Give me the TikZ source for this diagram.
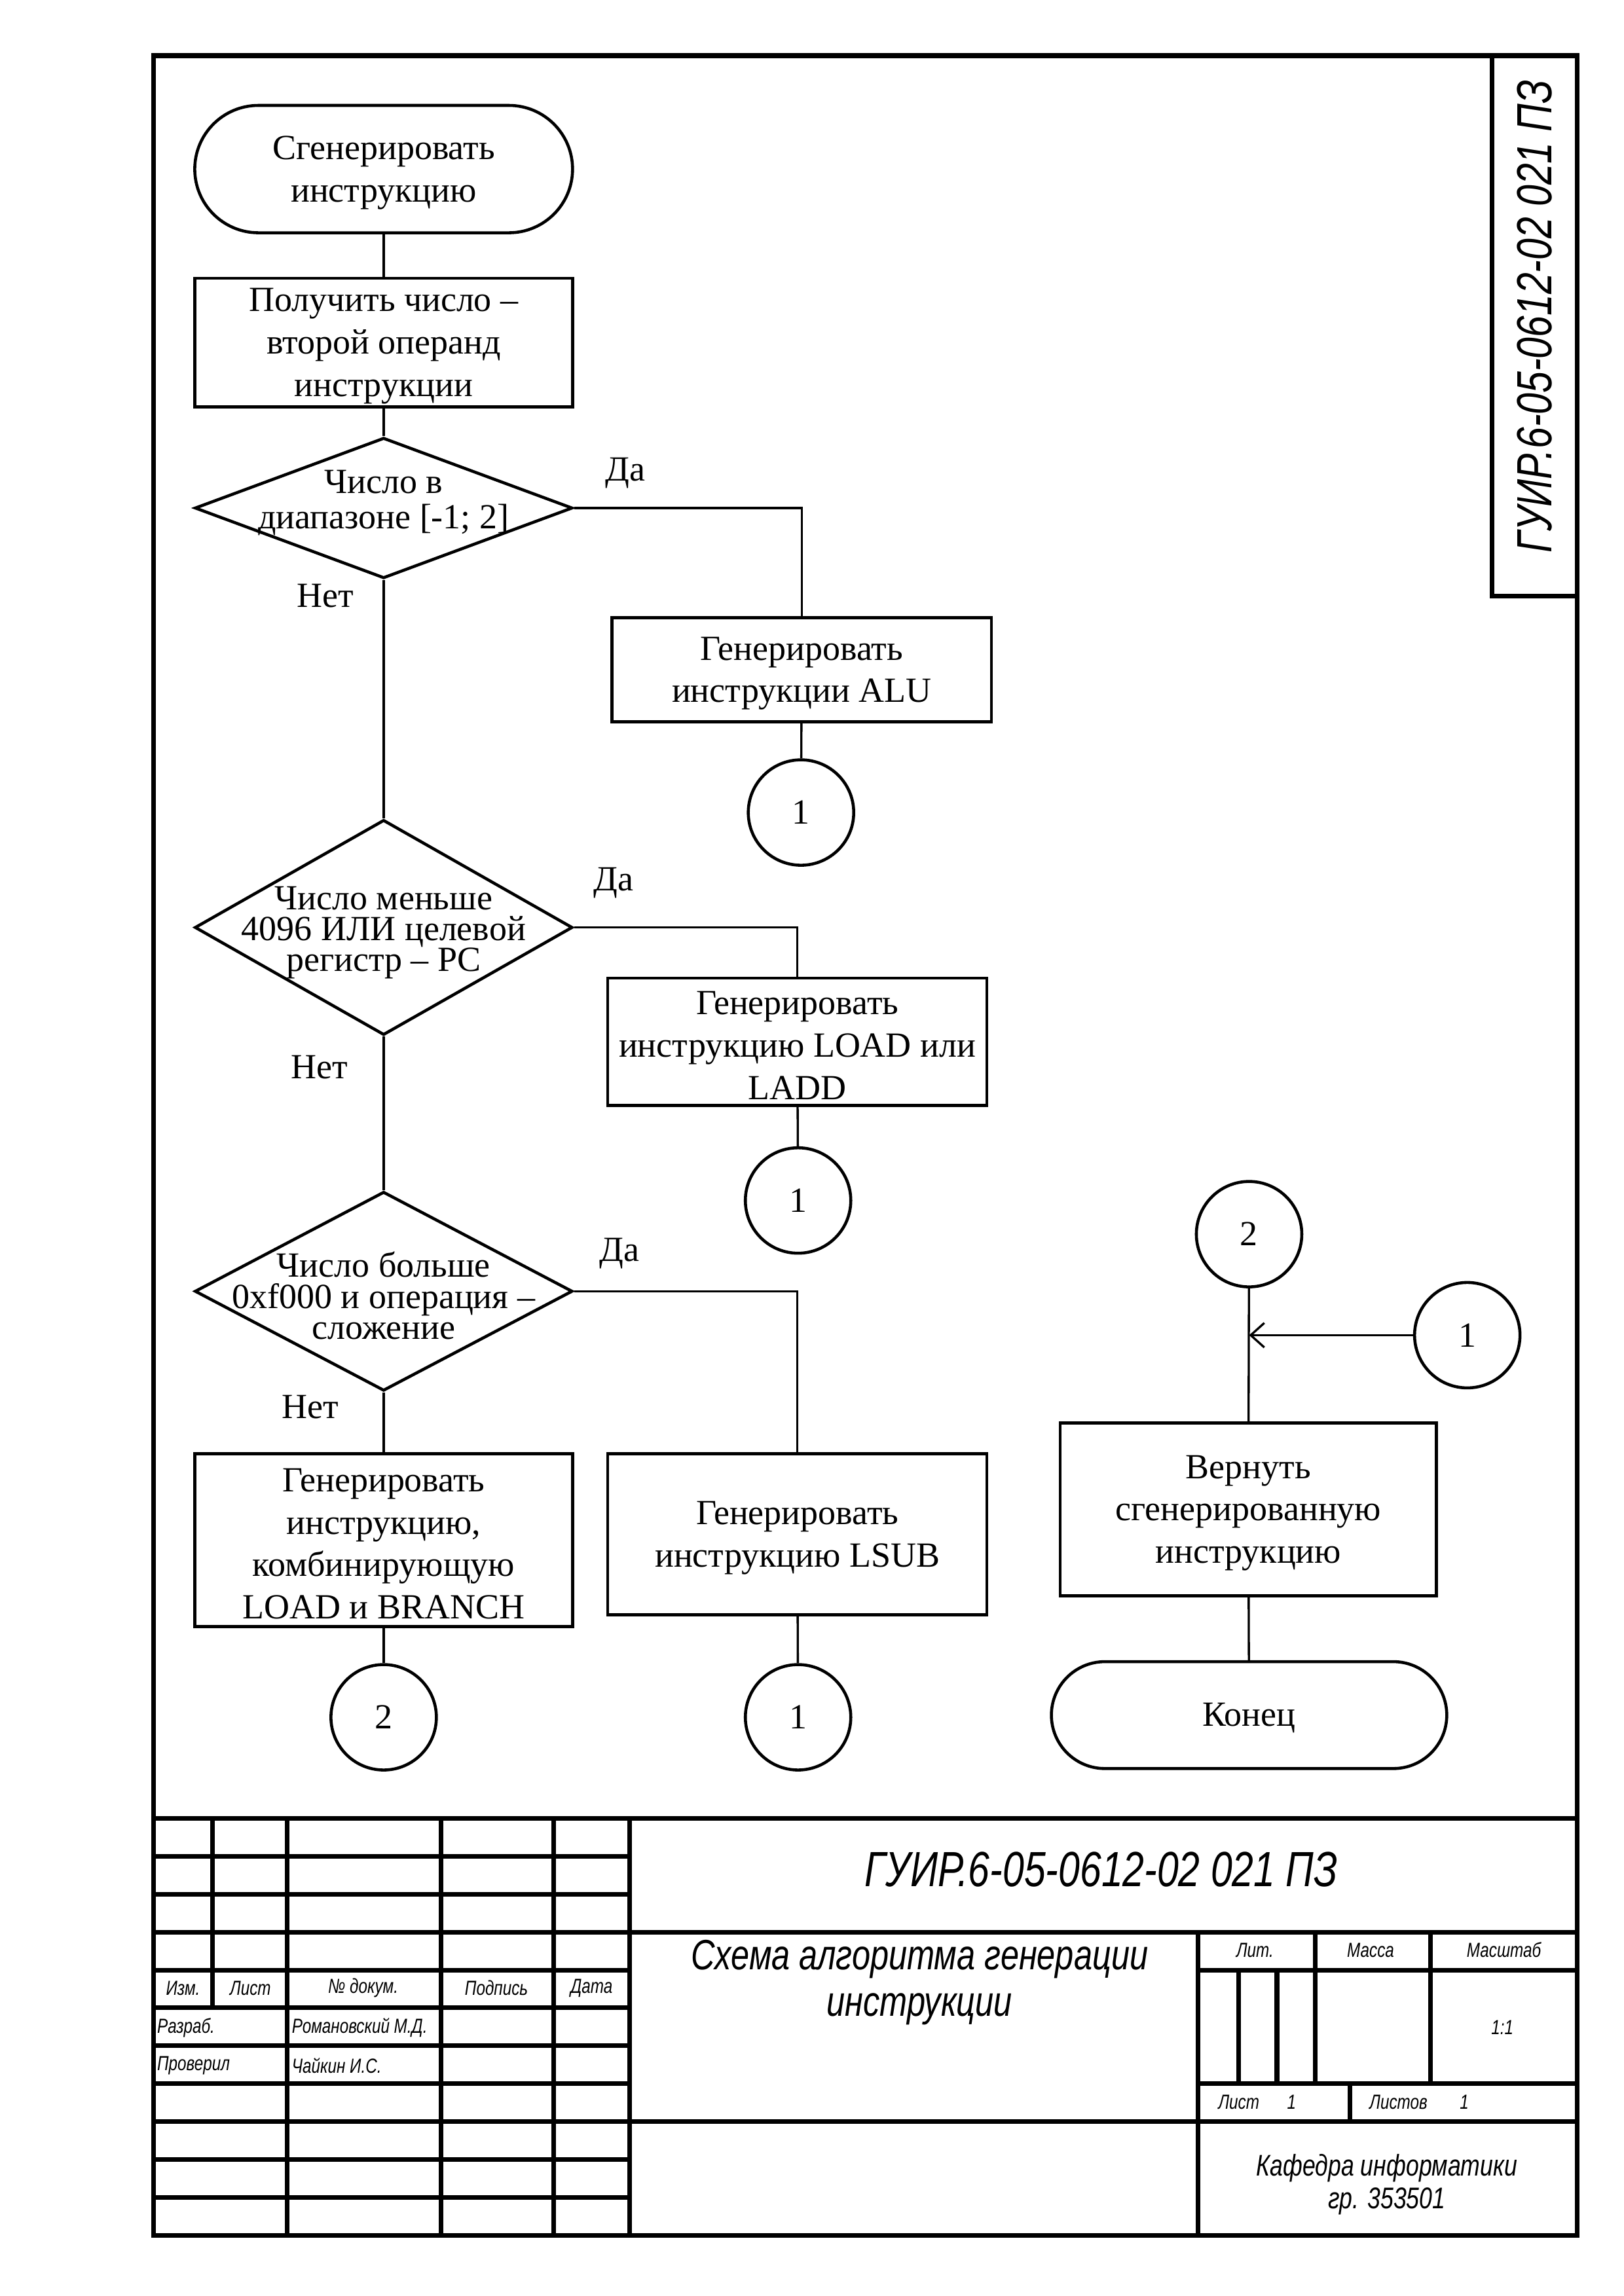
\documentclass[tikz,border=0pt]{standalone}
\usepackage{fontspec}
\setmainfont{Liberation Serif}
\newfontfamily\gost[FakeStretch=0.78]{Liberation Sans}
\usetikzlibrary{shapes.geometric,arrows.meta}
\def\U{0.018936cm}
\tikzset{
  fc/.style={font=\fontsize{13}{15.6}\selectfont, align=center, inner sep=0pt},
  dtxt/.style={font=\fontsize{13}{11.4}\selectfont, align=center, inner sep=0pt},
  proc/.style={draw, line width=1.1pt, rectangle, inner sep=0pt},
  termbox/.style={draw, line width=1.1pt, rectangle, inner sep=0pt},
  dec/.style={draw, line width=1.1pt, diamond, inner sep=0pt},
  conn/.style={draw, line width=1.1pt, circle, fc, minimum size=72*\U},
  wire/.style={line width=0.8pt},
  frm/.style={line width=1.7pt},
  gs/.style={font=\gost\itshape\fontsize{7.5}{9}\selectfont, inner sep=0pt},
  gm/.style={font=\gost\itshape\fontsize{11}{12}\selectfont, inner sep=0pt, align=center},
  gl/.style={font=\gost\itshape\fontsize{15.6}{17.2}\selectfont, inner sep=0pt, align=center},
  gx/.style={font=\gost\itshape\fontsize{18.2}{20}\selectfont, inner sep=0pt},
  lbl/.style={font=\fontsize{13}{15.6}\selectfont, inner sep=0pt}
}
\begin{document}
\begin{tikzpicture}[x=\U,y=-\U]
\useasboundingbox (0,0) rectangle (1109,1568.3);

% ---------- frame ----------
\draw[frm] (105,38) rectangle (1077,1527);
\draw[frm] (1019,38) |- (1077,407);
\node[gx, rotate=90] (stamp) at (1048,216) {ГУИР.6-05-0612-02 021 ПЗ};

% ---------- title block ----------
\draw[frm] (105,1242) -- (1077,1242);
\foreach \r in {1,...,10} \draw[frm] (105,{1242+25.9*\r}) -- (430,{1242+25.9*\r});
\draw[frm] (145,1242) -- (145,1371.5);
\foreach \xx in {196,301,378,430} \draw[frm] (\xx,1242) -- (\xx,1527);
\draw[frm] (430,1319.7) -- (1077,1319.7);
\draw[frm] (430,1449.2) -- (1077,1449.2);
\draw[frm] (818,1319.7) -- (818,1527);
\draw[frm] (818,1345.6) -- (1077,1345.6);
\draw[frm] (818,1423.3) -- (1077,1423.3);
\draw[frm] (898,1319.7) -- (898,1423.3);
\draw[frm] (977,1319.7) -- (977,1423.3);
\draw[frm] (846,1345.6) -- (846,1423.3);
\draw[frm] (872,1345.6) -- (872,1423.3);
\draw[frm] (922,1423.3) -- (922,1449.2);

\node[gs] (tizm) at (125,1358) {Изм.};
\node[gs] (tlist) at (171,1358) {Лист};
\node[gs] (tdoc) at (248,1358) {№ докум.};
\node[gs] (tpodp) at (339,1358) {Подпись};
\node[gs] (tdata) at (404,1358) {Дата};
\node[gs, anchor=west] (trazr) at (107,1385) {Разраб.};
\node[gs, anchor=west] (trom) at (199,1385) {Романовский М.Д.};
\node[gs, anchor=west] (tprov) at (107,1411) {Проверил};
\node[gs, anchor=west] (tchai) at (199,1411) {Чайкин И.С.};

\node[gx] (tcode) at (752,1277) {ГУИР.6-05-0612-02 021 ПЗ};
\node[gl] (ttitle) at (628,1354) {Схема алгоритма генерации\\инструкции};
\node[gs] (tlit) at (857,1332) {Лит.};
\node[gs] (tmass) at (936,1332) {Масса};
\node[gs] (tmasht) at (1027,1332) {Масштаб};
\node[gs] (tscale) at (1026,1385) {1:1};
\node[gs] (tlist2) at (846,1436) {Лист};
\node[gs] (tlistn) at (882,1436) {1};
\node[gs] (tlistov) at (955,1436) {Листов};
\node[gs] (tlistovn) at (1000,1436) {1};
\node[gm] (tkaf) at (947,1492) {Кафедра информатики\\гр. 353501};

% ---------- flowchart ----------
\node[termbox, minimum width=258*\U, minimum height=87*\U, rounded corners=43.5*\U] (start) at (262,115.5) {};
\node[fc] (startt) at (262,118) {Сгенерировать\\инструкцию};
\node[proc, minimum width=258*\U, minimum height=88*\U] (p1) at (262,234) {};
\node[fc] (p1t) at (262,236.5) {Получить число –\\второй операнд\\инструкции};

\node[dec, minimum width=258*\U, minimum height=96*\U] (d1) at (262,347) {};
\node[font=\fontsize{13}{12.9}\selectfont, align=center, inner sep=0pt] (d1t) at (262,343.5) {Число в\\диапазоне [-1; 2]};

\node[proc, minimum width=259*\U, minimum height=71*\U] (alu) at (547.5,457.5) {};
\node[fc] (alut) at (547.5,460) {Генерировать\\инструкции ALU};
\node[conn] (c1a) at (547,555) {1};

\node[dec, minimum width=258*\U, minimum height=147*\U] (d2) at (262,633.5) {};
\node[dtxt] (d2t) at (262,637) {Число меньше\\4096 ИЛИ целевой\\регистр – PC};

\node[proc, minimum width=259*\U, minimum height=87*\U] (load) at (544.5,711.5) {};
\node[fc] (loadt) at (544.5,714) {Генерировать\\инструкцию LOAD или\\LADD};
\node[conn] (c1b) at (545,820) {1};

\node[dec, minimum width=258*\U, minimum height=136*\U] (d3) at (262,882) {};
\node[dtxt] (d3t) at (262,885) {Число больше\\0xf000 и операция –\\сложение};

\node[proc, minimum width=259*\U, minimum height=110*\U] (lsub) at (544.5,1048) {};
\node[fc] (lsubt) at (544.5,1050.5) {Генерировать\\инструкцию LSUB};
\node[conn] (c1c) at (545,1173) {1};

\node[proc, minimum width=258*\U, minimum height=118*\U] (br) at (262,1052) {};
\node[fc] (brt) at (262,1054.5) {Генерировать\\инструкцию,\\комбинирующую\\LOAD и BRANCH};
\node[conn] (c2a) at (262,1173) {2};

\node[conn] (c2r) at (853,843) {2};
\node[conn] (c1r) at (1002,912) {1};
\node[proc, minimum width=257*\U, minimum height=118*\U] (ret) at (852.5,1031) {};
\node[fc] (rett) at (852.5,1033.5) {Вернуть\\сгенерированную\\инструкцию};
\node[termbox, minimum width=270*\U, minimum height=73*\U, rounded corners=36.5*\U] (fin) at (853,1171.5) {};
\node[fc] (fint) at (853,1173.5) {Конец};

% labels
\node[lbl] (y1) at (427,323) {Да};
\node[lbl] (n1) at (222,407) {Нет};
\node[lbl] (y2) at (419,603) {Да};
\node[lbl] (n2) at (218,729) {Нет};
\node[lbl] (y3) at (423,856) {Да};
\node[lbl] (n3) at (212,961) {Нет};

% connectors
\draw[wire] (start) -- (p1);
\draw[wire] (p1) -- (d1);
\draw[wire] (d1.east) -| (alu.north);
\draw[wire] (alu) -- (c1a);
\draw[wire] (d1.south) -- (d2.north);
\draw[wire] (d2.east) -| (load.north);
\draw[wire] (load) -- (c1b);
\draw[wire] (d2.south) -- (d3.north);
\draw[wire] (d3.east) -| (lsub.north);
\draw[wire] (lsub) -- (c1c);
\draw[wire] (d3.south) -- (br.north);
\draw[wire] (br) -- (c2a);
\draw[wire] (c2r) -- (ret);
\coordinate (join) at (c1r.west -| c2r.south);
\draw[wire, -{Straight Barb[length=5pt,width=9pt]}] (c1r.west) -- (join);
\draw[wire] (ret) -- (fin);
\end{tikzpicture}
\end{document}
